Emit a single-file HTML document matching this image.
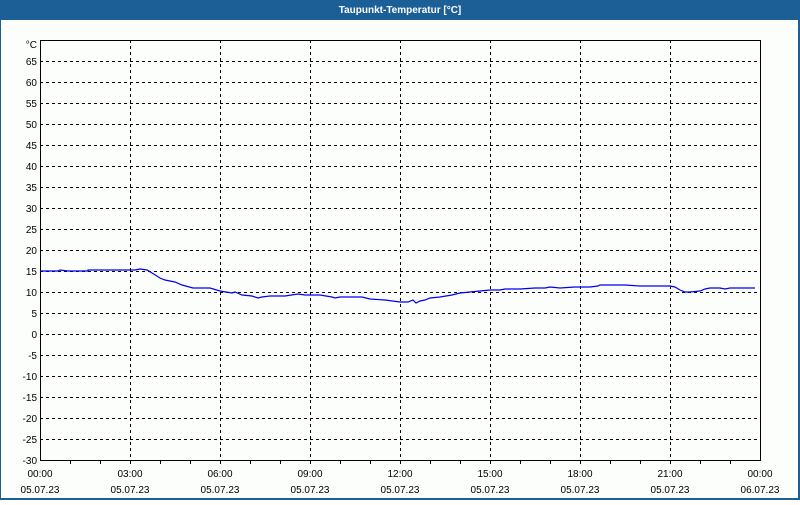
<!DOCTYPE html>
<html><head><style>
body{margin:0;width:800px;height:500px;overflow:hidden;background:#fff;font-family:"Liberation Sans",sans-serif}
</style></head><body>
<svg width="800" height="500" xmlns="http://www.w3.org/2000/svg" font-family="Liberation Sans, sans-serif" font-size="10">
<rect x="0" y="0" width="800" height="500" fill="#1c5f96"/>
<rect x="1" y="20" width="797" height="478" fill="#fcfefc"/>
<text x="400" y="13" fill="#fff" font-weight="bold" text-anchor="middle" font-size="10">Taupunkt-Temperatur [°C]</text>
<g stroke="#000" stroke-dasharray="3,3" stroke-width="1">
<line x1="40" x2="760" y1="61.5" y2="61.5"/><line x1="40" x2="760" y1="82.5" y2="82.5"/><line x1="40" x2="760" y1="103.5" y2="103.5"/><line x1="40" x2="760" y1="124.5" y2="124.5"/><line x1="40" x2="760" y1="145.5" y2="145.5"/><line x1="40" x2="760" y1="166.5" y2="166.5"/><line x1="40" x2="760" y1="187.5" y2="187.5"/><line x1="40" x2="760" y1="208.5" y2="208.5"/><line x1="40" x2="760" y1="229.5" y2="229.5"/><line x1="40" x2="760" y1="250.5" y2="250.5"/><line x1="40" x2="760" y1="271.5" y2="271.5"/><line x1="40" x2="760" y1="292.5" y2="292.5"/><line x1="40" x2="760" y1="313.5" y2="313.5"/><line x1="40" x2="760" y1="334.5" y2="334.5"/><line x1="40" x2="760" y1="355.5" y2="355.5"/><line x1="40" x2="760" y1="376.5" y2="376.5"/><line x1="40" x2="760" y1="397.5" y2="397.5"/><line x1="40" x2="760" y1="418.5" y2="418.5"/><line x1="40" x2="760" y1="439.5" y2="439.5"/>
<line x1="130.5" x2="130.5" y1="40" y2="460"/><line x1="220.5" x2="220.5" y1="40" y2="460"/><line x1="310.5" x2="310.5" y1="40" y2="460"/><line x1="400.5" x2="400.5" y1="40" y2="460"/><line x1="490.5" x2="490.5" y1="40" y2="460"/><line x1="580.5" x2="580.5" y1="40" y2="460"/><line x1="670.5" x2="670.5" y1="40" y2="460"/>
</g>
<rect x="40.5" y="40.5" width="720" height="420" fill="none" stroke="#000"/>
<g stroke="#000">
<path d="M70.5 460v4M100.5 460v4M130.5 460v4M160.5 460v4M190.5 460v4M220.5 460v4M250.5 460v4M280.5 460v4M310.5 460v4M340.5 460v4M370.5 460v4M400.5 460v4M430.5 460v4M460.5 460v4M490.5 460v4M520.5 460v4M550.5 460v4M580.5 460v4M610.5 460v4M640.5 460v4M670.5 460v4M700.5 460v4M730.5 460v4"/>
</g>
<polyline fill="none" stroke="#0000ee" stroke-width="1.2" points="40,271 58,271 60,270 68,271 88,271 88,270 130,270 135,270 140,269 147,270 152,273 160,278 165,280 175,282 182,285 193,288 210,288 220,291 232,293 235,292 242,295 252,296 258,298 262,297 270,296 285,296 298,294 305,295 320,295 332,297 335,298 340,297 362,297 370,299 385,300 400,302 408,302 413,300 416,303 420,301 425,300 430,298 440,297 452,295 460,293 470,292 480,291 490,290 500,290 505,289 520,289 535,288 545,288 550,287 560,288 575,287 590,287 598,286 600,285 625,285 640,286 670,286 675,287 680,290 685,292 690,292 700,291 705,289 710,288 720,288 725,289 730,288 755,288"/>
<g text-anchor="end" fill="#000">
<text x="37" y="48">°C</text>
<text x="37" y="65">65</text><text x="37" y="86">60</text><text x="37" y="107">55</text><text x="37" y="128">50</text><text x="37" y="149">45</text><text x="37" y="170">40</text><text x="37" y="191">35</text><text x="37" y="212">30</text><text x="37" y="233">25</text><text x="37" y="254">20</text><text x="37" y="275">15</text><text x="37" y="296">10</text><text x="37" y="317">5</text><text x="37" y="338">0</text><text x="37" y="359">-5</text><text x="37" y="380">-10</text><text x="37" y="401">-15</text><text x="37" y="422">-20</text><text x="37" y="443">-25</text><text x="37" y="464">-30</text>
</g>
<g text-anchor="middle" fill="#000">
<text x="40" y="477">00:00</text><text x="40" y="493">05.07.23</text>
<text x="130" y="477">03:00</text><text x="130" y="493">05.07.23</text>
<text x="220" y="477">06:00</text><text x="220" y="493">05.07.23</text>
<text x="310" y="477">09:00</text><text x="310" y="493">05.07.23</text>
<text x="400" y="477">12:00</text><text x="400" y="493">05.07.23</text>
<text x="490" y="477">15:00</text><text x="490" y="493">05.07.23</text>
<text x="580" y="477">18:00</text><text x="580" y="493">05.07.23</text>
<text x="670" y="477">21:00</text><text x="670" y="493">05.07.23</text>
<text x="760" y="477">00:00</text><text x="760" y="493">06.07.23</text>
</g>
</svg>
</body></html>
